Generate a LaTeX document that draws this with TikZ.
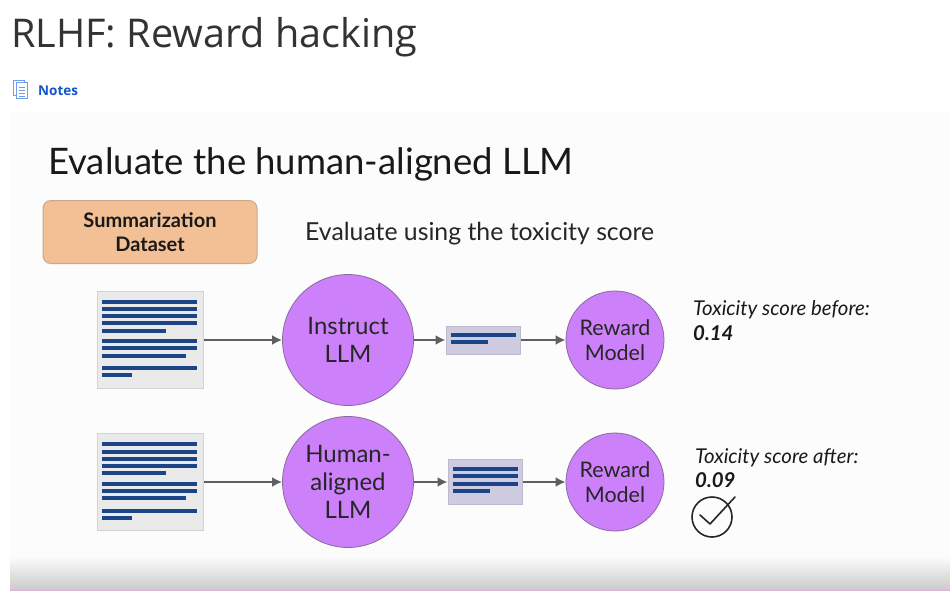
\documentclass[tikz,border=0pt]{standalone}
\usepackage{fontspec}
\setmainfont{Lato}
\newfontfamily\titlefont{Open Sans}
\usetikzlibrary{arrows.meta,calc,positioning}
\definecolor{slidebg}{HTML}{FCFCFC}
\definecolor{peach}{HTML}{F2C094}
\definecolor{peachline}{HTML}{C9A88C}
\definecolor{llmpurple}{HTML}{CC80FA}
\definecolor{llmline}{HTML}{8A6A9E}
\definecolor{docgray}{HTML}{EAEAEA}
\definecolor{docline}{HTML}{D2D2D2}
\definecolor{outgray}{HTML}{CFCBE1}
\definecolor{outline}{HTML}{BDBACF}
\definecolor{textblue}{HTML}{1C4587}
\definecolor{linkblue}{HTML}{1155CC}
\definecolor{iconblue}{HTML}{6D9EEB}
\definecolor{arrowgray}{HTML}{5F5F5F}
\tikzset{
  doc/.style={draw=docline, fill=docgray, line width=1pt, minimum width=106pt, minimum height=97pt, inner sep=0pt},
  outbox/.style={draw=outline, fill=outgray, line width=1pt, inner sep=0pt},
  llm/.style={circle, draw=llmline, fill=llmpurple, line width=0.8pt, inner sep=0pt, minimum size=#1, align=center, text=black!85, execute at begin node={\vspace*{2pt}}},
  flow/.style={draw=arrowgray, line width=2pt, -{Latex[length=10pt,width=10pt]}},
  textline/.style={draw=textblue, line width=4pt},
  score/.style={anchor=base west, font=\fontsize{20.4}{24}\selectfont, text=black!90},
}
\newcommand{\doclines}[2]{%
  \foreach \ly/\lx in {10.5/196.5,18/196.5,25/196.5,32/196.5,39.5/166,50/196.5,57/196.5,64.5/186,77/196.5,84/132}
    \draw[textline] (102,#1+\ly) -- (\lx,#1+\ly);
}
\begin{document}
\begin{tikzpicture}[x=1pt,y=-1pt]
  \useasboundingbox (0,0) rectangle (950,591);
  \fill[white] (0,0) rectangle (950,591);
  \fill[slidebg] (10,112) rectangle (950,556);
  \shade[top color=slidebg, bottom color=black!20] (10,556) rectangle (950,589);
  \draw[draw=violet!30, line width=1pt] (10,590) -- (950,590);

  % page header
  \node[anchor=base west, inner sep=0pt, font=\titlefont\fontsize{39.6}{48}\selectfont, text=black!80] (title) at (11,48) {RLHF: Reward hacking};
  \node[anchor=base west, inner sep=0pt, font=\titlefont\bfseries\fontsize{13.5}{16}\selectfont, text=linkblue] (notes) at (38,96) {Notes};
  \draw[iconblue, line width=1pt, fill=white] (13,81) rectangle (24,96);
  \draw[iconblue, line width=1pt, fill=white] (16,83) rectangle (27.5,99);
  \foreach \iy in {87,90,93,96}
    \draw[iconblue, line width=0.8pt] (18.5,\iy) -- (25,\iy);

  % slide header
  \node[anchor=base west, inner sep=0pt, font=\fontsize{36.5}{44}\selectfont, text=black!90] (heading) at (48,174) {Evaluate the human-aligned LLM};
  \node[draw=peachline, fill=peach, line width=1pt, rounded corners=8pt, minimum width=214pt, minimum height=63pt, inner sep=0pt, align=center, font=\bfseries\fontsize{20}{24}\selectfont, text=black!90] (dataset) at (150,232) {Summarization\\Dataset};
  \node[anchor=base west, inner sep=0pt, font=\fontsize{24.8}{28}\selectfont, text=black!85] (evaluate) at (305,240) {Evaluate using the toxicity score};

  % first row
  \node[doc] (doca) at (150,340) {};
  \doclines{291}{a}
  \node[llm=131pt, font=\fontsize{24}{28}\selectfont] (instruct) at (348,340) {Instruct\\LLM};
  \node[outbox, minimum width=74pt, minimum height=28pt] (outa) at (483,340) {};
  \draw[textline] (451,335) -- (516,335);
  \draw[textline] (451,342) -- (488,342);
  \node[llm=98pt, font=\fontsize{21.5}{25.5}\selectfont] (rewarda) at (615,340) {Reward\\Model};
  \draw[flow] (doca) -- (instruct);
  \draw[flow] (instruct) -- (outa);
  \draw[flow] (outa) -- (rewarda);
  \node[score, inner sep=0pt] (beforelabel) at (693,315) {\itshape Toxicity score before:};
  \node[score, inner sep=0pt] (beforevalue) at (693,340) {\bfseries\itshape 0.14};

  % second row
  \node[doc] (docb) at (150,482) {};
  \doclines{433.5}{b}
  \node[llm=131pt, font=\fontsize{24}{28}\selectfont] (human) at (348,482) {Human-\\aligned\\LLM};
  \node[outbox, minimum width=74pt, minimum height=45pt] (outb) at (485,482) {};
  \foreach \ly in {468.5,476,483.5}
    \draw[textline] (453,\ly) -- (518,\ly);
  \draw[textline] (453,491) -- (490,491);
  \node[llm=98pt, font=\fontsize{21.5}{25.5}\selectfont] (rewardb) at (615,482) {Reward\\Model};
  \draw[flow] (docb) -- (human);
  \draw[flow] (human) -- (outb);
  \draw[flow] (outb) -- (rewardb);
  \node[score, inner sep=0pt] (afterlabel) at (695,463) {\itshape Toxicity score after:};
  \node[score, inner sep=0pt] (aftervalue) at (695,487) {\bfseries\itshape 0.09};

  % check mark
  \node[circle, draw=black!85, line width=1.6pt, minimum size=40pt, inner sep=0pt] (okring) at (712,517) {};
  \draw[black!85, line width=1.6pt, line cap=round, line join=round] (700,515) -- (710,524) -- (735,497);
\end{tikzpicture}
\end{document}
